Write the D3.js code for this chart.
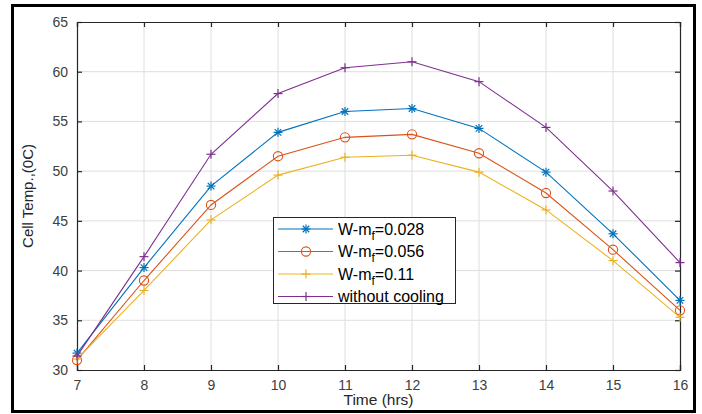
<!DOCTYPE html>
<html>
<head>
<meta charset="utf-8">
<script src="https://cdn.jsdelivr.net/npm/d3@7/dist/d3.min.js"></script>
<style>
  html, body { margin: 0; padding: 0; background: #fff; }
  svg { display: block; }
</style>
</head>
<body>
<svg id="chart" width="702" height="414"></svg>
<script>
// Hours of the day (x axis)
const hours = [7, 8, 9, 10, 11, 12, 13, 14, 15, 16];

// Cell temperature (°C) for each cooling case
const temp028 = [31.7, 40.3, 48.5, 53.9, 56.0, 56.3, 54.3, 49.9, 43.7, 37.0];
const temp056 = [31.0, 39.0, 46.6, 51.5, 53.4, 53.7, 51.8, 47.8, 42.1, 36.0];
const temp011 = [31.1, 38.0, 45.1, 49.6, 51.4, 51.6, 49.9, 46.1, 41.0, 35.3];
const tempNone = [31.4, 41.4, 51.7, 57.8, 60.4, 61.0, 59.0, 54.4, 48.0, 40.8];

const xTicks = [7, 8, 9, 10, 11, 12, 13, 14, 15, 16];
const yTicks = [30, 35, 40, 45, 50, 55, 60, 65];

const series = [
  { name: "W-m", sub: "f", tail: "=0.028", values: temp028, color: "#0072BD", marker: "asterisk" },
  { name: "W-m", sub: "f", tail: "=0.056", values: temp056, color: "#D95319", marker: "circle" },
  { name: "W-m", sub: "f", tail: "=0.11", values: temp011, color: "#EDB120", marker: "plus" },
  { name: "without cooling", sub: "", tail: "", values: tempNone, color: "#7E2F8E", marker: "plus" }
];

const svg = d3.select("#chart");
const plot = { left: 77, right: 680, top: 22, bottom: 370 };

// outer frame
svg.append("rect")
  .attr("x", 12.5).attr("y", 5.5)
  .attr("width", 682).attr("height", 406)
  .attr("fill", "none").attr("stroke", "#000").attr("stroke-width", 3);

const x = d3.scaleLinear().domain([7, 16]).range([plot.left, plot.right]);
const y = d3.scaleLinear().domain([30, 65]).range([plot.bottom, plot.top]);

const font = "'Liberation Sans', Arial, Helvetica, sans-serif";
const axisColor = "#262626";

// grid
const grid = svg.append("g");
grid.selectAll("line.vx").data(xTicks.slice(1, -1)).join("line")
  .attr("x1", d => x(d)).attr("x2", d => x(d))
  .attr("y1", plot.top).attr("y2", plot.bottom)
  .attr("stroke", "#dedede").attr("stroke-width", 1);
grid.selectAll("line.hy").data(yTicks.slice(1, -1)).join("line")
  .attr("x1", plot.left).attr("x2", plot.right)
  .attr("y1", d => y(d)).attr("y2", d => y(d))
  .attr("stroke", "#dedede").attr("stroke-width", 1);

// axes with inward ticks on all four sides
const tickLen = 5;
const xAxisB = d3.axisBottom(x).tickValues(xTicks).tickSize(-tickLen).tickPadding(10).tickFormat(d3.format("d"));
const xAxisT = d3.axisTop(x).tickValues(xTicks).tickSize(-tickLen).tickFormat("");
const yAxisL = d3.axisLeft(y).tickValues(yTicks).tickSize(-tickLen).tickPadding(9).tickFormat(d3.format("d"));
const yAxisR = d3.axisRight(y).tickValues(yTicks).tickSize(-tickLen).tickFormat("");

function styleAxis(g) {
  g.select(".domain").attr("stroke", axisColor).attr("stroke-width", 1.2);
  g.selectAll(".tick line").attr("stroke", axisColor).attr("stroke-width", 1.2);
  g.selectAll(".tick text").attr("fill", "#404040").style("font-family", font).style("font-size", "14px");
}

svg.append("g").attr("transform", `translate(0,${plot.bottom})`).call(xAxisB).call(styleAxis);
svg.append("g").attr("transform", `translate(0,${plot.top})`).call(xAxisT).call(styleAxis);
svg.append("g").attr("transform", `translate(${plot.left},0)`).call(yAxisL).call(styleAxis);
svg.append("g").attr("transform", `translate(${plot.right},0)`).call(yAxisR).call(styleAxis);

// marker shapes
function drawMarker(g, kind, cx, cy, color) {
  const s = 4.5;
  if (kind === "circle") {
    g.append("circle").attr("cx", cx).attr("cy", cy).attr("r", 4.6)
      .attr("fill", "none").attr("stroke", color).attr("stroke-width", 1.1);
  } else {
    const segs = [[-s, 0, s, 0], [0, -s, 0, s]];
    if (kind === "asterisk") {
      const d = s * 0.72;
      segs.push([-d, -d, d, d], [-d, d, d, -d]);
    }
    segs.forEach(([a, b, c, e]) => {
      g.append("line")
        .attr("x1", cx + a).attr("y1", cy + b).attr("x2", cx + c).attr("y2", cy + e)
        .attr("stroke", color).attr("stroke-width", 1.2);
    });
  }
}

// series lines and markers
const line = d3.line().x((d, i) => x(hours[i])).y(d => y(d));
series.forEach(s => {
  const g = svg.append("g");
  g.append("path").datum(s.values).attr("d", line)
    .attr("fill", "none").attr("stroke", s.color).attr("stroke-width", 1.1);
  s.values.forEach((v, i) => drawMarker(g, s.marker, x(hours[i]), y(v), s.color));
});

// legend
const leg = { x: 273, y: 217, w: 182, h: 86, row: 22.5 };
const lg = svg.append("g");
lg.append("rect").attr("x", leg.x + 0.5).attr("y", leg.y + 0.5)
  .attr("width", leg.w).attr("height", leg.h)
  .attr("fill", "#fff").attr("stroke", axisColor).attr("stroke-width", 1);
series.forEach((s, i) => {
  const cy = leg.y + 12 + i * leg.row;
  lg.append("line").attr("x1", leg.x + 5).attr("x2", leg.x + 60)
    .attr("y1", cy).attr("y2", cy).attr("stroke", s.color).attr("stroke-width", 1.1);
  drawMarker(lg, s.marker, leg.x + 33, cy, s.color);
  const t = lg.append("text").attr("x", leg.x + 65).attr("y", cy + 5.5)
    .style("font-family", font).style("font-size", "16px").attr("fill", "#000");
  t.append("tspan").text(s.name);
  if (s.sub) {
    t.append("tspan").attr("dy", 5).style("font-size", "12px").text(s.sub);
    t.append("tspan").attr("dy", -5).text(s.tail);
  }
});

// axis titles
svg.append("text")
  .attr("x", (plot.left + plot.right) / 2).attr("y", 405)
  .attr("text-anchor", "middle")
  .style("font-family", font).style("font-size", "15.5px").attr("fill", "#262626")
  .text("Time (hrs)");
svg.append("text")
  .attr("transform", `translate(33,${(plot.top + plot.bottom) / 2}) rotate(-90)`)
  .attr("text-anchor", "middle")
  .style("font-family", font).style("font-size", "15px").attr("fill", "#262626")
  .text("Cell Temp.,(0C)");
</script>
</body>
</html>
